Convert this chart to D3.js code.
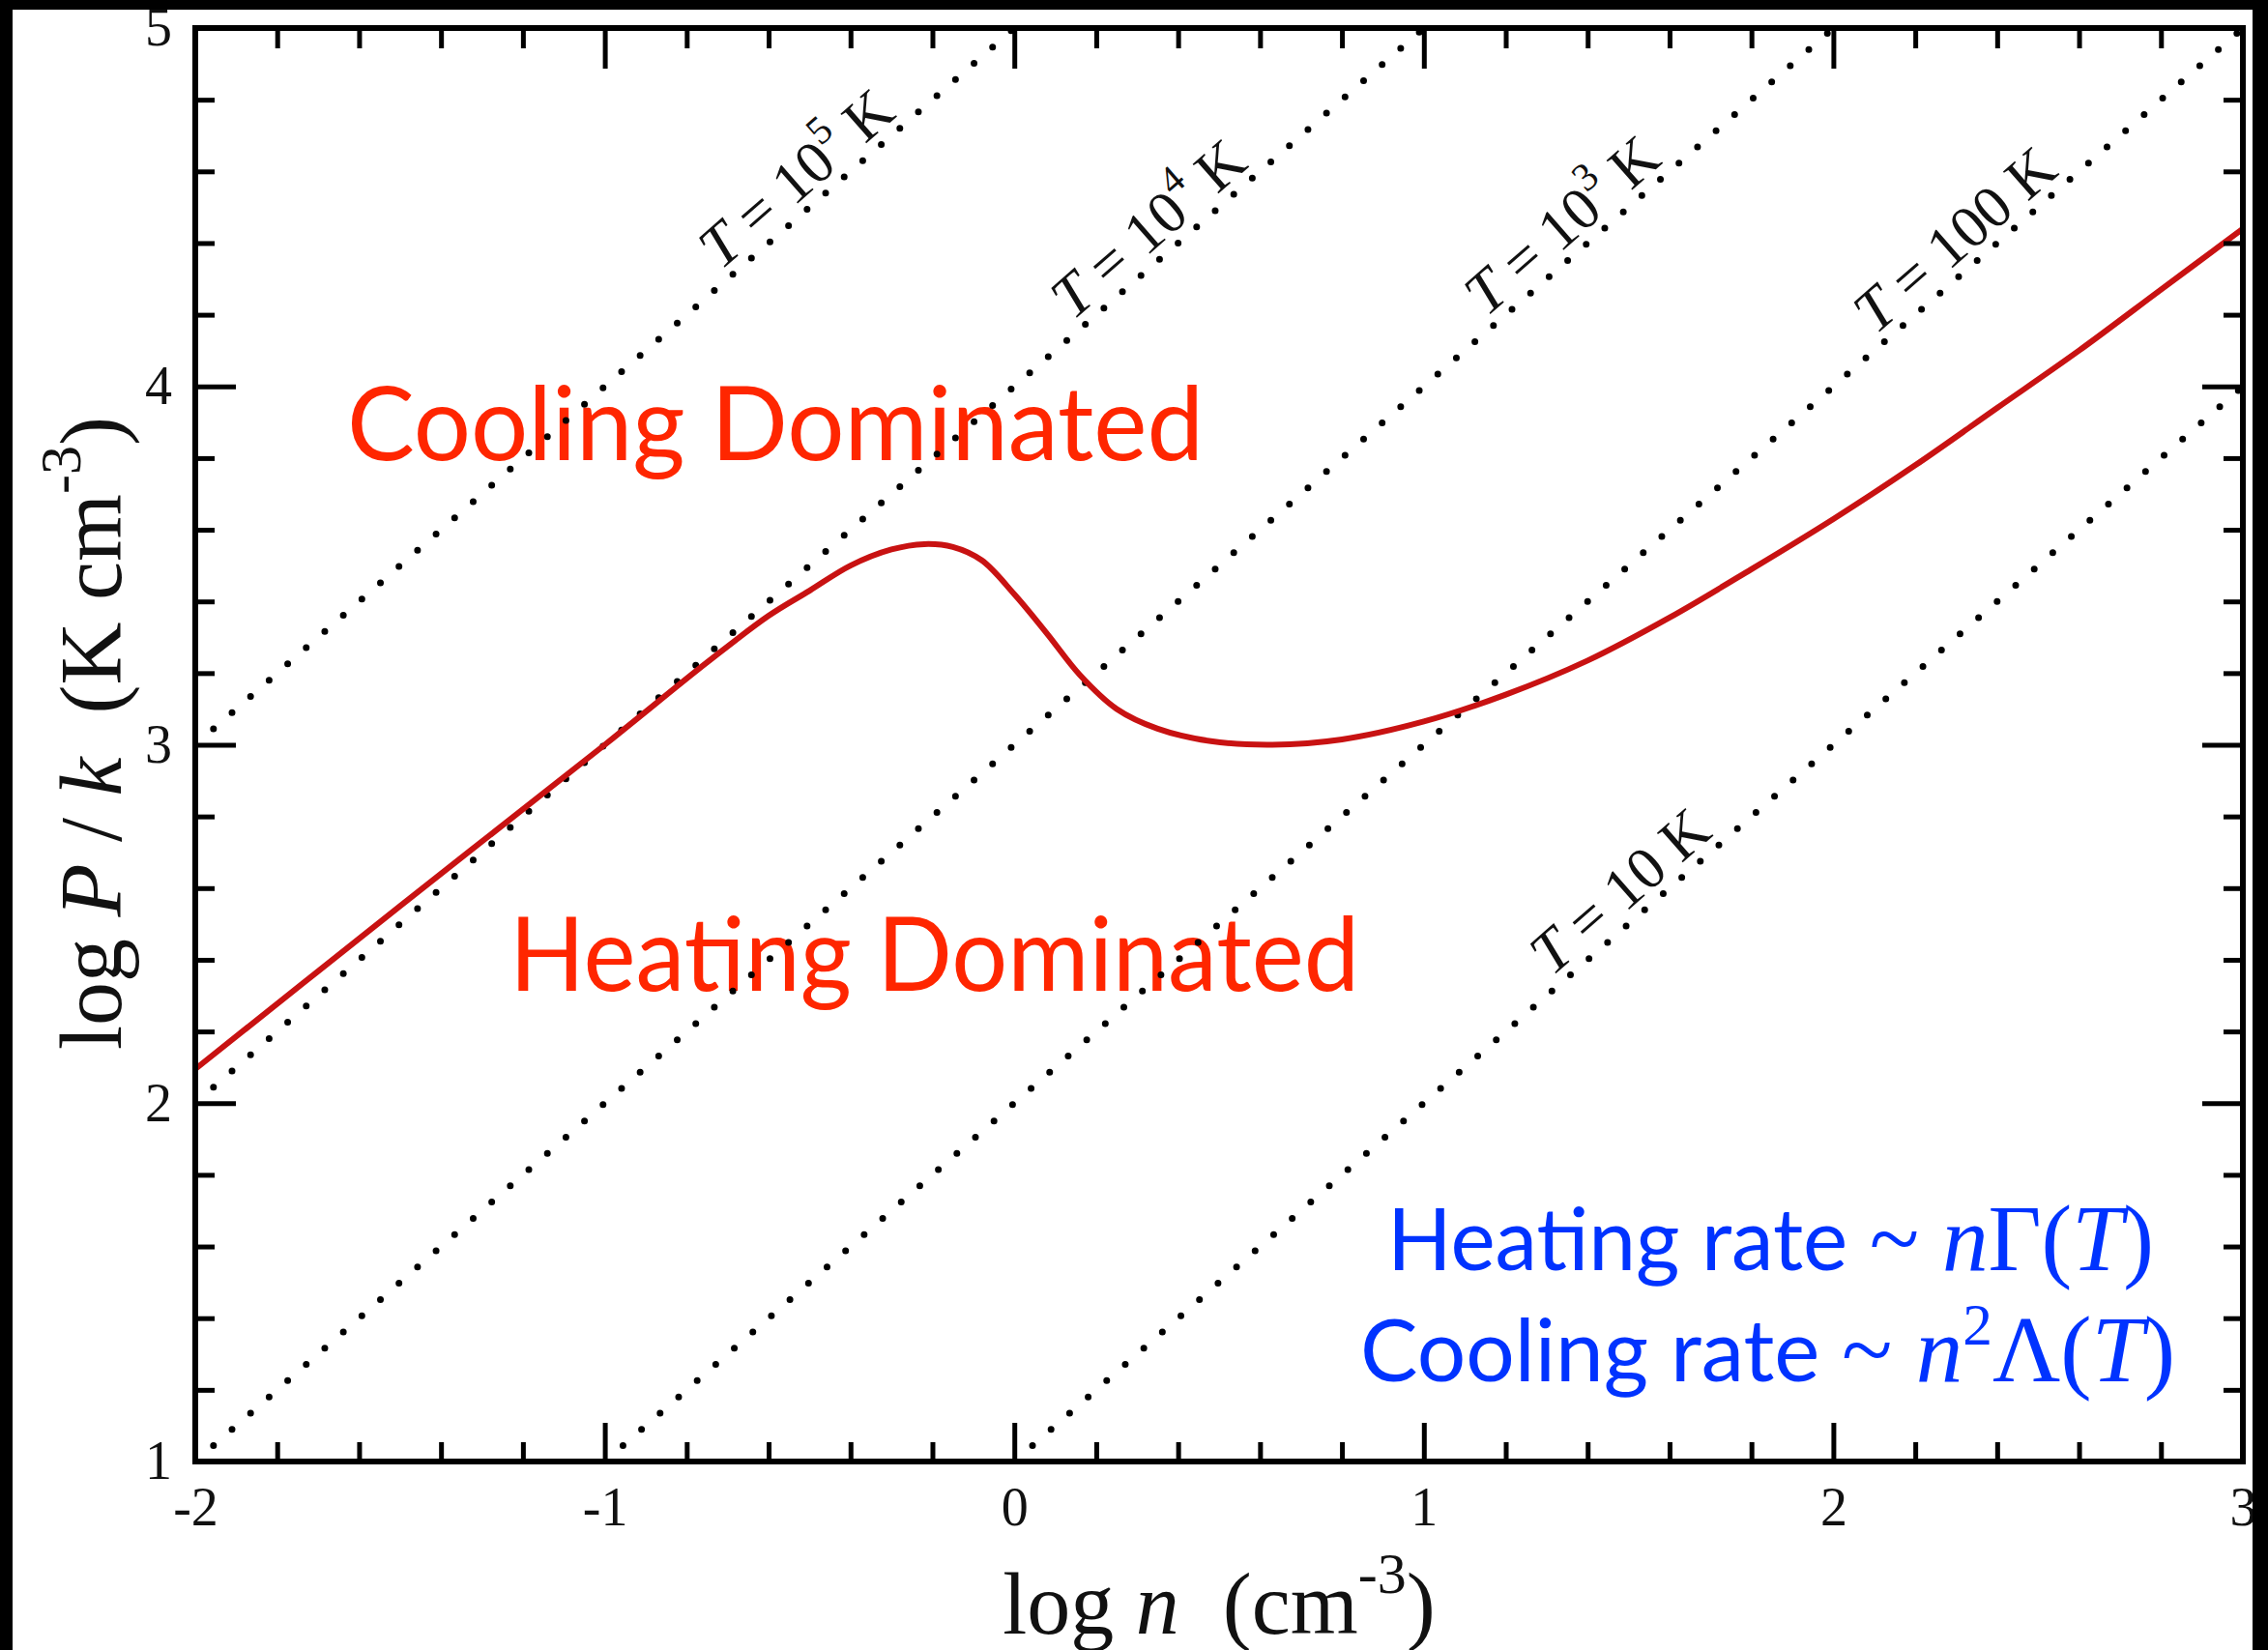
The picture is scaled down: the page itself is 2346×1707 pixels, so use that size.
<!DOCTYPE html>
<html>
<head>
<meta charset="utf-8">
<script src="https://cdn.jsdelivr.net/npm/d3@7"></script>
<style>
    html, body { margin: 0; padding: 0; background: #000; }
    svg { display: block; }
</style>
</head>
<body>
<svg id="chart" width="2346" height="1707"></svg>
<script>
(function () {
    'use strict';

    // equilibrium curve
    var logN  = [-2.0, -1.5, -1.0, -0.75, -0.6, -0.5, -0.4, -0.3, -0.22, -0.15, -0.08, 0.0, 0.08, 0.16, 0.25, 0.35, 0.48, 0.63, 0.8, 1.0, 1.2, 1.4, 1.6, 1.8, 2.0, 2.2, 2.4, 2.6, 2.8, 3.0];
    var logPk = [2.095, 2.55, 3.0, 3.23, 3.36, 3.43, 3.50, 3.545, 3.56, 3.552, 3.515, 3.42, 3.31, 3.195, 3.10, 3.045, 3.01, 3.0, 3.015, 3.065, 3.14, 3.235, 3.355, 3.49, 3.63, 3.78, 3.94, 4.10, 4.27, 4.44];

    // isotherms  log P/k = log n + log T
    var isoLogT     = [5, 4, 3, 2, 1];
    var isoMantissa = ['10', '10', '10', '100', '10'];
    var isoExponent = ['5', '4', '3', '', ''];
    var isoLabelAt  = [-0.7, 0.16, 1.17, 2.12, 1.33];   // log n where each label starts

    var xTicks = [-2, -1, 0, 1, 2, 3],
        yTicks = [1, 2, 3, 4, 5];

    var W = 2346, H = 1707;
    var serif = "'Liberation Serif', 'Times New Roman', serif",
        sans = "Lato, 'Open Sans', sans-serif";

    var svg = d3.select('#chart');

    svg.append('rect')
        .attr('x', 13).attr('y', 10)
        .attr('width', 2317).attr('height', H - 10)
        .attr('fill', '#fff');

    var x = d3.scaleLinear().domain([-2, 3]).range([202, 2320]),
        y = d3.scaleLinear().domain([1, 5]).range([1512, 29]);

    function isMinor(v) { return Math.abs(v - Math.round(v)) > 1e-6; }
    var xMinor = d3.range(-2, 3.001, 0.2).filter(isMinor),
        yMinor = d3.range(1, 5.001, 0.2).filter(isMinor);

    //region labels (under the dots)
    svg.append('text')
        .attr('x', 359).attr('y', 476)
        .attr('font-family', sans).attr('font-size', 106)
        .attr('fill', '#ff2600')
        .attr('textLength', 886).attr('lengthAdjust', 'spacingAndGlyphs')
        .text('Cooling Dominated');

    svg.append('text')
        .attr('x', 527).attr('y', 1025)
        .attr('font-family', sans).attr('font-size', 106)
        .attr('fill', '#ff2600')
        .attr('textLength', 879).attr('lengthAdjust', 'spacingAndGlyphs')
        .text('Heating Dominated');

    // rate formulas
    var blue = '#0033ff';
    var heat = svg.append('text')
        .attr('x', 1435).attr('y', 1314)
        .attr('fill', blue).style('white-space', 'pre')
        .attr('textLength', 793).attr('lengthAdjust', 'spacingAndGlyphs');
    heat.append('tspan').attr('font-family', sans).attr('font-size', 90).text('Heating rate ');
    heat.append('tspan').attr('font-family', serif).attr('font-size', 98).text('~ ');
    heat.append('tspan').attr('font-family', serif).attr('font-size', 98).attr('font-style', 'italic').text('n');
    heat.append('tspan').attr('font-family', serif).attr('font-size', 98).text('\u0393(');
    heat.append('tspan').attr('font-family', serif).attr('font-size', 98).attr('font-style', 'italic').text('T');
    heat.append('tspan').attr('font-family', serif).attr('font-size', 98).text(')');

    var cool = svg.append('text')
        .attr('x', 1407).attr('y', 1429)
        .attr('fill', blue).style('white-space', 'pre')
        .attr('textLength', 843).attr('lengthAdjust', 'spacingAndGlyphs');
    cool.append('tspan').attr('font-family', sans).attr('font-size', 90).text('Cooling rate ');
    cool.append('tspan').attr('font-family', serif).attr('font-size', 98).text('~ ');
    cool.append('tspan').attr('font-family', serif).attr('font-size', 98).attr('font-style', 'italic').text('n');
    cool.append('tspan').attr('font-family', serif).attr('font-size', 62).attr('dy', -38).text('2');
    cool.append('tspan').attr('font-family', serif).attr('font-size', 98).attr('dy', 38).text('\u039B(');
    cool.append('tspan').attr('font-family', serif).attr('font-size', 98).attr('font-style', 'italic').text('T');
    cool.append('tspan').attr('font-family', serif).attr('font-size', 98).text(')');

    // isotherm dotted lines
    var line = d3.line()
        .x(function (d) { return x(d[0]); })
        .y(function (d) { return y(d[1]); });

    var slopeAngle = Math.atan2(y(2) - y(1), x(1) - x(0)) * 180 / Math.PI;

    isoLogT.forEach(function (lt, i) {
        var n0 = Math.max(-2, 1 - lt),
            n1 = Math.min(3, 5 - lt);

        svg.append('path')
            .datum([[n0, n0 + lt], [n1, n1 + lt]])
            .attr('d', line)
            .attr('fill', 'none')
            .attr('stroke', '#000')
            .attr('stroke-width', 7)
            .attr('stroke-linecap', 'round')
            .attr('stroke-dasharray', '0 25.5')
            .attr('stroke-dashoffset', 0.5);

        var ls = isoLabelAt[i];
        var lab = svg.append('text')
            .attr('transform', 'translate(' + x(ls) + ',' + y(ls + lt) + ') rotate(' + slopeAngle + ')')
            .attr('y', -11)
            .attr('font-family', serif)
            .attr('font-size', 62)
            .attr('fill', '#111')
            .style('white-space', 'pre');
        lab.append('tspan').attr('font-style', 'italic').text('T');
        lab.append('tspan').text(' = ' + isoMantissa[i]);
        if (isoExponent[i]) {
            lab.append('tspan').attr('font-size', 41).attr('dy', -29).text(isoExponent[i]);
            lab.append('tspan').attr('dy', 29).text(' K');
        } else {
            lab.append('tspan').text(' K');
        }
    });

    // equilibrium curve
    svg.append('path')
        .datum(d3.zip(logN, logPk))
        .attr('d', line.curve(d3.curveCatmullRom.alpha(0.5)))
        .attr('fill', 'none')
        .attr('stroke', '#c81212')
        .attr('stroke-width', 6)
        .attr('stroke-linejoin', 'round');

    // axes, ticks on all four sides pointing inward
    function drawAxis(gen, tx, ty) {
        var g = svg.append('g')
            .attr('transform', 'translate(' + tx + ',' + ty + ')')
            .call(gen);
        g.select('.domain').remove();
        g.selectAll('line').attr('stroke', '#000').attr('stroke-width', 5);
        g.selectAll('text')
            .attr('font-family', serif)
            .attr('font-size', 56)
            .attr('fill', '#111');
        return g;
    }
    var fmt = function (d) { return String(d); };

    drawAxis(d3.axisBottom(x).tickValues(xTicks).tickSize(-40).tickPadding(26).tickFormat(fmt), 0, y(1));
    drawAxis(d3.axisBottom(x).tickValues(xMinor).tickSize(-20).tickFormat(''), 0, y(1));
    drawAxis(d3.axisTop(x).tickValues(xTicks).tickSize(-42).tickFormat(''), 0, y(5));
    drawAxis(d3.axisTop(x).tickValues(xMinor).tickSize(-21).tickFormat(''), 0, y(5));
    drawAxis(d3.axisLeft(y).tickValues(yTicks).tickSize(-42).tickPadding(24).tickFormat(fmt), x(-2), 0);
    drawAxis(d3.axisLeft(y).tickValues(yMinor).tickSize(-20).tickFormat(''), x(-2), 0);
    drawAxis(d3.axisRight(y).tickValues(yTicks).tickSize(-42).tickFormat(''), x(3), 0);
    drawAxis(d3.axisRight(y).tickValues(yMinor).tickSize(-20).tickFormat(''), x(3), 0);

    svg.append('rect')
        .attr('x', x(-2)).attr('y', y(5))
        .attr('width', x(3) - x(-2)).attr('height', y(1) - y(5))
        .attr('fill', 'none')
        .attr('stroke', '#000')
        .attr('stroke-width', 6);

    // axis titles
    var xt = svg.append('text')
        .attr('x', (x(-2) + x(3)) / 2).attr('y', 1690)
        .attr('text-anchor', 'middle')
        .attr('font-family', serif).attr('font-size', 90)
        .attr('fill', '#111')
        .style('white-space', 'pre');
    xt.append('tspan').text('log ');
    xt.append('tspan').attr('font-style', 'italic').text('n');
    xt.append('tspan').text('  (cm');
    xt.append('tspan').attr('font-size', 60).attr('dy', -42).text('-3');
    xt.append('tspan').attr('dy', 42).text(')');

    var yt = svg.append('text')
        .attr('transform', 'translate(125,' + (y(3) - 12) + ') rotate(-90)')
        .attr('text-anchor', 'middle')
        .attr('font-family', serif).attr('font-size', 90)
        .attr('fill', '#111')
        .style('white-space', 'pre');
    yt.append('tspan').text('log ');
    yt.append('tspan').attr('font-style', 'italic').text('P');
    yt.append('tspan').text(' / ');
    yt.append('tspan').attr('font-style', 'italic').text('k');
    yt.append('tspan').text('  (K cm');
    yt.append('tspan').attr('font-size', 60).attr('dy', -42).text('-3');
    yt.append('tspan').attr('dy', 42).text(')');

    // black frame round the picture
    svg.append('rect').attr('x', 0).attr('y', 0).attr('width', 13).attr('height', H).attr('fill', '#000');
    svg.append('rect').attr('x', 0).attr('y', 0).attr('width', W).attr('height', 10).attr('fill', '#000');
    svg.append('rect').attr('x', 2330).attr('y', 0).attr('width', W - 2330).attr('height', H).attr('fill', '#000');
}());
</script>
</body>
</html>
